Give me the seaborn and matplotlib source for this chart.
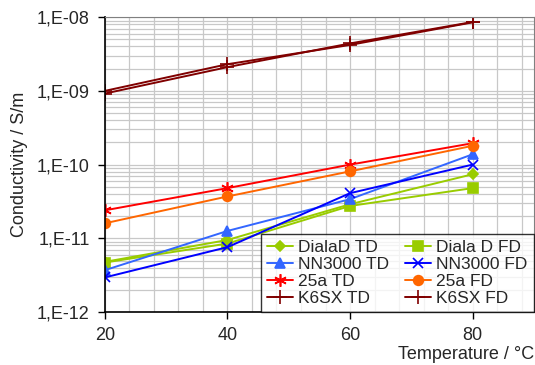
import matplotlib
matplotlib.use("Agg")
import matplotlib.pyplot as plt
import matplotlib.ticker as mticker
import numpy as np
import pandas as pd
import seaborn as sns

temperature = [20, 40, 60, 80]
series_names = [
    "DialaD TD", "Diala D FD", "NN3000 TD", "NN3000 FD",
    "25a TD", "25a FD", "K6SX TD", "K6SX FD",
]
dialad_td = [4.8e-12, 9.5e-12, 2.9e-11, 7.4e-11]
diala_d_fd = [4.7e-12, 8.5e-12, 2.75e-11, 4.8e-11]
nn3000_td = [3.7e-12, 1.26e-11, 3.4e-11, 1.38e-10]
nn3000_fd = [2.95e-12, 7.6e-12, 4.1e-11, 1.0e-10]
a25_td = [2.4e-11, 4.8e-11, 1.0e-10, 1.95e-10]
a25_fd = [1.6e-11, 3.7e-11, 8.1e-11, 1.8e-10]
k6sx_td = [1.0e-9, 2.3e-9, 4.2e-9, 8.5e-9]
k6sx_fd = [0.92e-9, 2.1e-9, 4.4e-9, 8.6e-9]
y_ticks = [1e-12, 1e-11, 1e-10, 1e-9, 1e-8]

values = [dialad_td, diala_d_fd, nn3000_td, nn3000_fd, a25_td, a25_fd, k6sx_td, k6sx_fd]
colors = ["#99CC00", "#99CC00", "#3366FF", "#0000FF",
          "#FF0000", "#FF6600", "#800000", "#800000"]
markers = ["D", "s", "^", "x", (6, 2, 0), "o", "+", "+"]
msizes = [5.5, 6.5, 7, 7, 9, 7, 10, 10]

rows = []
for name, vals in zip(series_names, values):
    for t, v in zip(temperature, vals):
        rows.append({"T": t, "sigma": v, "series": name})
df = pd.DataFrame(rows)

sns.set_style("white")
plt.rcParams["font.family"] = ["Liberation Sans", "DejaVu Sans"]

fig = plt.figure(figsize=(5.35, 3.65), dpi=100)
ax = fig.add_axes([0.196, 0.145, 0.802, 0.808])

handles = {}
for name, c, m, ms in zip(series_names, colors, markers, msizes):
    sub = df[df["series"] == name]
    sns.lineplot(data=sub, x="T", y="sigma", ax=ax, color=c, marker=m,
                 markersize=ms, markeredgecolor=c, markeredgewidth=1.2,
                 linewidth=1.4, label=name, legend=False)
    handles[name] = ax.lines[-1]

ax.set_yscale("log")
ax.set_ylim(1e-12, 1e-8)
ax.set_xlim(20, 90)
ax.xaxis.set_major_locator(mticker.FixedLocator([20, 40, 60, 80]))
ax.xaxis.set_minor_locator(mticker.FixedLocator(np.arange(20, 91, 4)))
ax.yaxis.set_major_locator(mticker.FixedLocator(y_ticks))
minor_y = [m * t for t in y_ticks[:-1] for m in range(2, 10)]
ax.yaxis.set_minor_locator(mticker.FixedLocator(minor_y))
ax.yaxis.set_minor_formatter(mticker.NullFormatter())
ax.yaxis.set_major_formatter(
    mticker.FuncFormatter(lambda v, p: "1,E-%02d" % int(round(-np.log10(v)))))

ax.grid(True, which="both", color="#C8C8C8", linewidth=0.9)
ax.set_axisbelow(True)
for s in ["top", "right"]:
    ax.spines[s].set_color("#808080")
for s in ["left", "bottom"]:
    ax.spines[s].set_color("black")
    ax.spines[s].set_linewidth(1.2)
ax.tick_params(axis="both", which="major", direction="out", length=5,
               width=1, labelsize=13, color="black", pad=6, left=True, bottom=True)
ax.tick_params(axis="both", which="minor", length=0)

ax.set_xlabel("Temperature / °C", fontsize=13, loc="right", labelpad=1)
ax.set_ylabel("Conductivity / S/m", fontsize=13, labelpad=6)

order = ["DialaD TD", "NN3000 TD", "25a TD", "K6SX TD",
         "Diala D FD", "NN3000 FD", "25a FD", "K6SX FD"]
leg = ax.legend([handles[n] for n in order], order, ncol=2, loc="lower right",
                bbox_to_anchor=(1.0, 0.0), fontsize=12.5, frameon=True, fancybox=False,
                borderpad=0.35, labelspacing=0.1, handlelength=1.5, handletextpad=0.3,
                columnspacing=0.9, borderaxespad=0.0)
leg.get_frame().set_edgecolor("black")
leg.get_frame().set_linewidth(1.0)

fig.savefig("out.png", dpi=100)
